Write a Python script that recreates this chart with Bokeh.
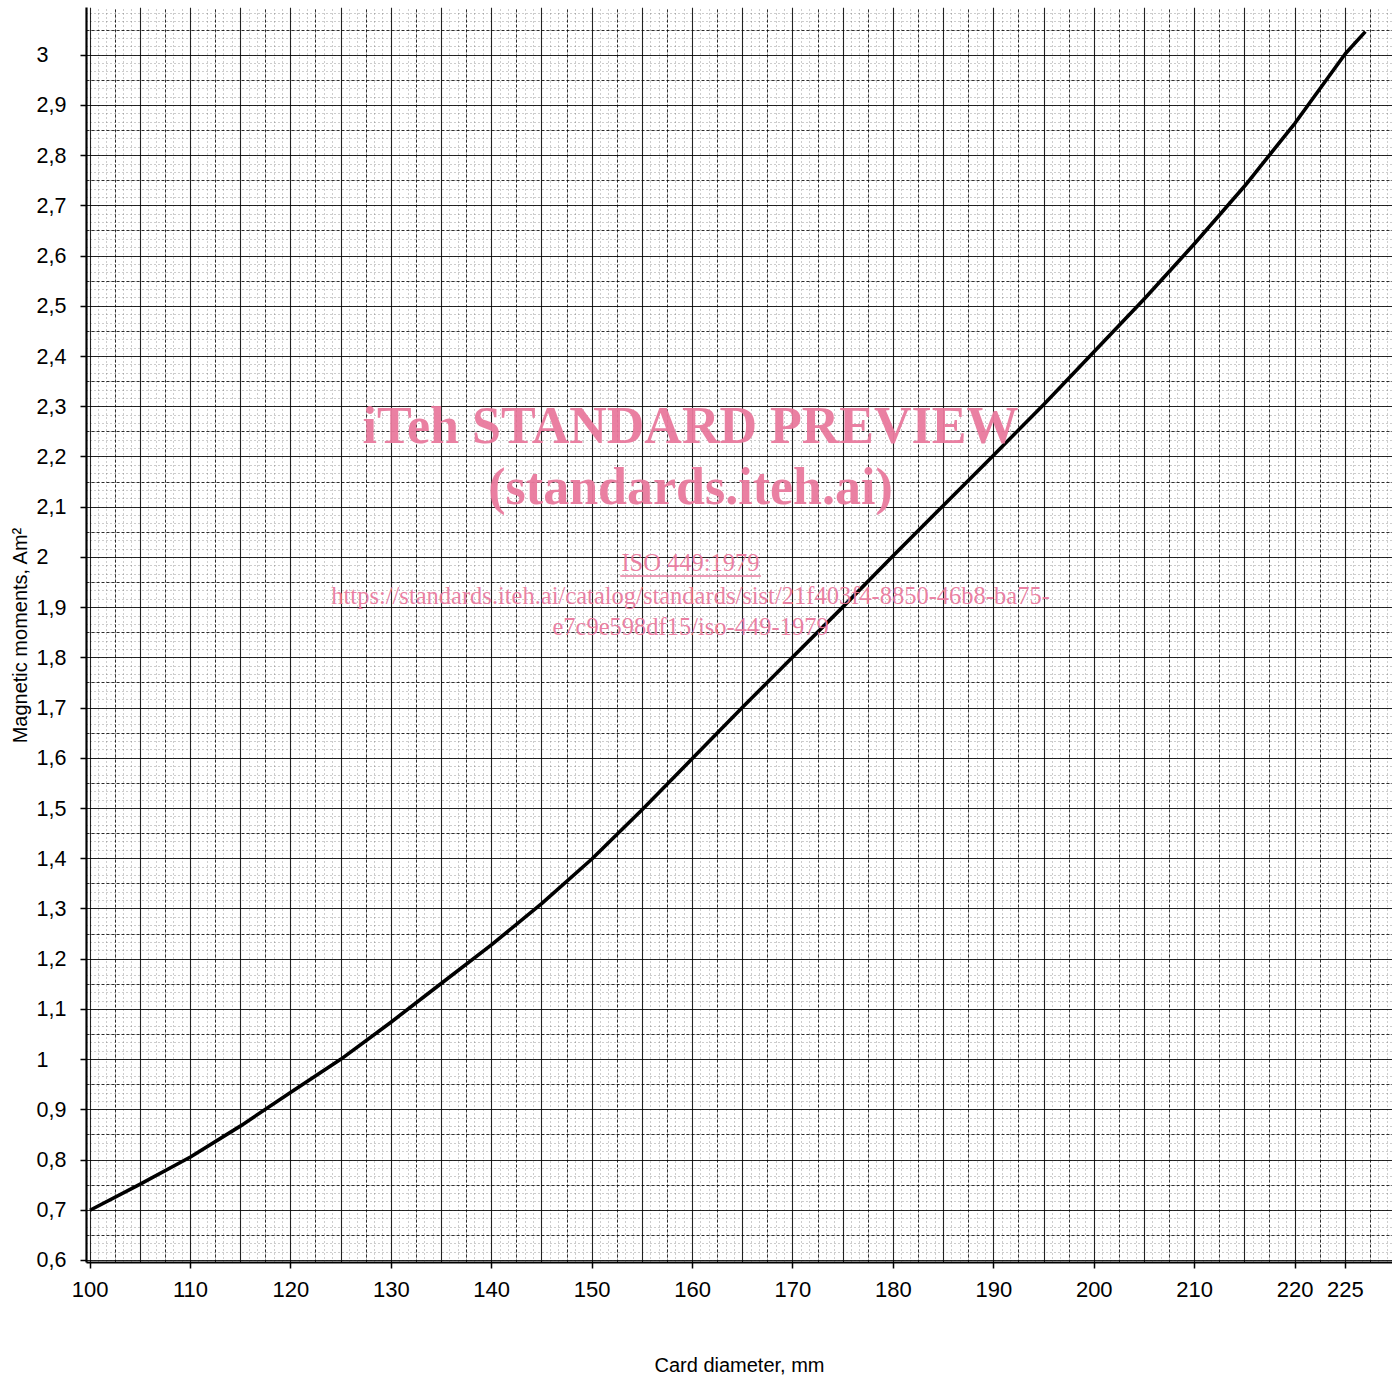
import numpy as np
from bokeh.plotting import figure
from bokeh.models import Range1d, FixedTicker, Grid, Label
from bokeh.embed import file_html
from bokeh.resources import INLINE

# ---- data ----
diameter_mm = [100, 105, 110, 115, 120, 125, 130, 135, 140, 145, 150, 155, 160,
               165, 170, 175, 180, 185, 190, 195, 200, 205, 210, 215, 220, 225, 227]
moment_am2 = [0.700, 0.752, 0.806, 0.868, 0.935, 1.001, 1.075, 1.152, 1.229, 1.311,
              1.400, 1.498, 1.600, 1.702, 1.802, 1.902, 2.004, 2.104, 2.204, 2.305,
              2.410, 2.515, 2.625, 2.740, 2.865, 3.003, 3.047]

x_ticks = [100, 110, 120, 130, 140, 150, 160, 170, 180, 190, 200, 210, 220, 225]
x_tick_labels = ["100", "110", "120", "130", "140", "150", "160", "170", "180",
                 "190", "200", "210", "220", "225"]
y_ticks = [0.6, 0.7, 0.8, 0.9, 1.0, 1.1, 1.2, 1.3, 1.4, 1.5, 1.6, 1.7, 1.8, 1.9,
           2.0, 2.1, 2.2, 2.3, 2.4, 2.5, 2.6, 2.7, 2.8, 2.9, 3.0]
y_tick_labels = ["0,6", "0,7", "0,8", "0,9", "1", "1,1", "1,2", "1,3", "1,4", "1,5",
                 "1,6", "1,7", "1,8", "1,9", "2", "2,1", "2,2", "2,3", "2,4", "2,5",
                 "2,6", "2,7", "2,8", "2,9", "3"]

x_title = "Card diameter, mm"
y_title = "Magnetic moments, Am\u00b2"

watermark_lines = ["iTeh STANDARD PREVIEW", "(standards.iteh.ai)", "ISO 449:1979",
                   "https://standards.iteh.ai/catalog/standards/sist/21f403f4-8850-46b8-ba75-",
                   "e7c9e598df15/iso-449-1979"]

# ---- figure ----
p = figure(width=1392, height=1378, output_backend="svg", toolbar_location=None,
           x_range=Range1d(99.65, 229.7), y_range=Range1d(0.596, 3.095),
           min_border_left=86, min_border_right=0, min_border_top=7, min_border_bottom=113)
p.outline_line_color = None
p.background_fill_color = "white"
p.xgrid.visible = False
p.ygrid.visible = False

# graph-paper grid
fine_x = list(np.arange(100 - 5, 232, 5 / 6))
fine_y = list(np.arange(0.6, 3.12, 0.05 / 3))
half_x = list(np.arange(102.5, 232, 5))
half_y = list(np.arange(0.65, 3.12, 0.1))
main_x = list(np.arange(100, 232, 5))
main_y = list(np.arange(0.6, 3.12, 0.1))

for dim, vals in ((0, fine_x), (1, fine_y)):
    g = Grid(dimension=dim, ticker=FixedTicker(ticks=vals), grid_line_color="#3a3a3a",
             grid_line_alpha=0.5, grid_line_width=1, grid_line_dash="1 3")
    p.add_layout(g)
for dim, vals in ((0, half_x), (1, half_y)):
    g = Grid(dimension=dim, ticker=FixedTicker(ticks=vals), grid_line_color="black",
             grid_line_alpha=0.8, grid_line_width=1, grid_line_dash="3 2")
    p.add_layout(g)
for dim, vals in ((0, main_x), (1, main_y)):
    g = Grid(dimension=dim, ticker=FixedTicker(ticks=vals), grid_line_color="black",
             grid_line_alpha=0.85, grid_line_width=1.1)
    p.add_layout(g)

# curve
p.line(diameter_mm, moment_am2, line_color="black", line_width=3.6, line_join="round")

# axes
p.xaxis.ticker = FixedTicker(ticks=x_ticks)
p.xaxis.major_label_overrides = {t: l for t, l in zip(x_ticks, x_tick_labels)}
p.yaxis.ticker = FixedTicker(ticks=y_ticks)
p.yaxis.major_label_overrides = {
    t: (l if "," in l else l + "\u2008\u2007") for t, l in zip(y_ticks, y_tick_labels)}

for ax in (p.xaxis[0], p.yaxis[0]):
    ax.axis_line_width = 2.2
    ax.axis_line_color = "black"
    ax.major_tick_line_color = "black"
    ax.major_tick_line_width = 1.5
    ax.major_tick_in = 0
    ax.major_tick_out = 6
    ax.minor_tick_in = 0
    ax.minor_tick_out = 0
    ax.major_label_text_font = "Liberation Sans"
    ax.major_label_text_color = "black"
    ax.axis_label_text_font = "Liberation Sans"
    ax.axis_label_text_font_style = "normal"
    ax.axis_label_text_color = "black"

p.xaxis.major_label_text_font_size = "22px"
p.xaxis.major_label_standoff = 13
p.xaxis.axis_label = x_title
p.xaxis.axis_label_text_font_size = "20px"
p.xaxis.axis_label_standoff = 54

p.yaxis.major_label_text_font_size = "21.5px"
p.yaxis.major_label_standoff = 14
p.yaxis.axis_label = y_title
p.yaxis.axis_label_text_font_size = "20px"
p.yaxis.axis_label_standoff = 3

# watermark
pink = "#e9799d"
wm_x = 159.8
wm_specs = [
    (watermark_lines[0], 2.262, "52px", "bold"),
    (watermark_lines[1], 2.142, "52px", "bold"),
    (watermark_lines[2], 1.990, "24.5px", "normal"),
    (watermark_lines[3], 1.925, "24.5px", "normal"),
    (watermark_lines[4], 1.862, "24.5px", "normal"),
]
for txt, yy, fs, st in wm_specs:
    p.add_layout(Label(x=wm_x, y=yy, text=txt, text_align="center", text_baseline="middle",
                       text_font="Liberation Serif", text_font_size=fs, text_font_style=st,
                       text_color=pink, text_alpha=0.95))
# underline of ISO reference
p.segment(x0=[152.8], y0=[1.963], x1=[166.8], y1=[1.963], line_color=pink, line_width=1.5)

open("out.html", "w").write(file_html(p, INLINE))
